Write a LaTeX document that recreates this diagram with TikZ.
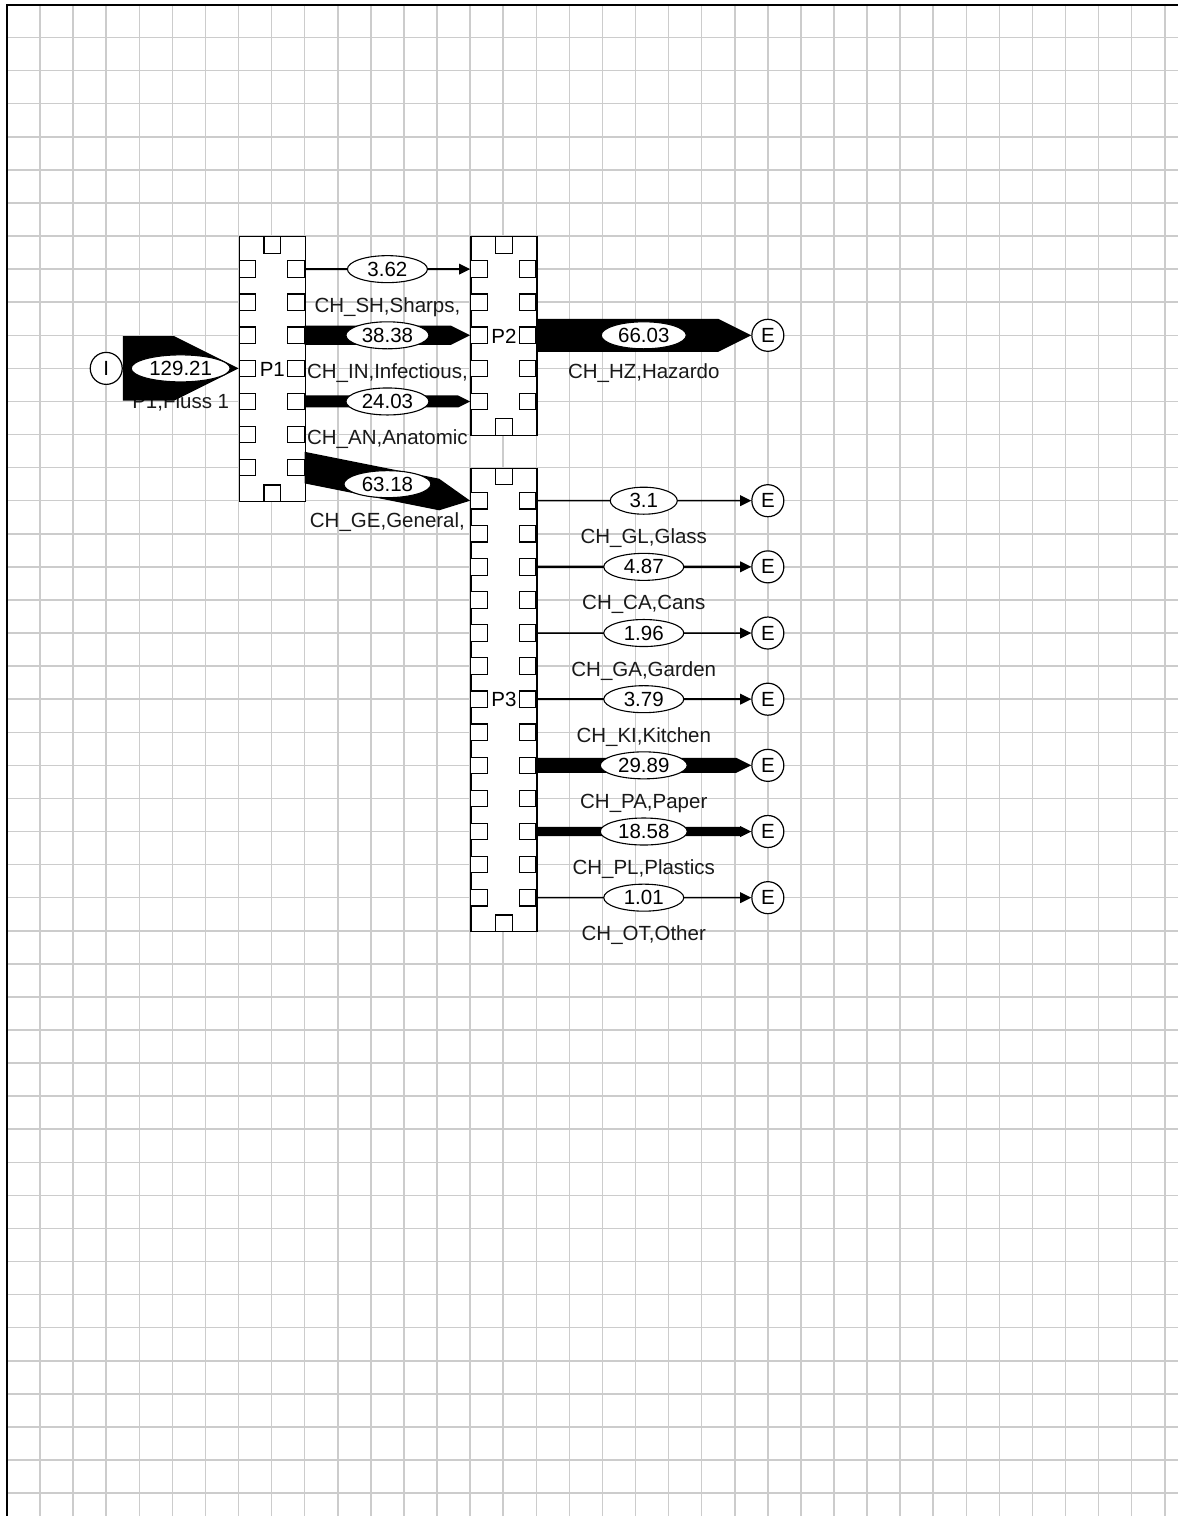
\documentclass[tikz,border=0pt]{standalone}
\usepackage{fontspec}
\setmainfont{Liberation Sans}
\usetikzlibrary{calc, shapes.geometric}

% process block with its ports: name, left x, first row, last row
\newcommand{\procbox}[4]{%
  \node[proc, minimum height={(#4-#3+2)*33.08pt}, anchor=north west] (#1) at (#2,#3-1) {#1};
  \foreach \r in {#3,...,#4} {
    \node[port, anchor=west] (#1l\r) at (#2,\r) {};
    \node[port, anchor=east] (#1r\r) at (#2+2,\r) {};
  }
  \node[port, anchor=north] at (#1.north) {};
  \node[port, anchor=south] at (#1.south) {};
}

% flow band: start, tip, value, label, ellipse width
\newcommand{\fbdrop}{1.3}
\newcommand{\flowband}[5]{%
  \pgfmathsetmacro\fbw{max(#3*0.25,0.75)}%
  \pgfmathsetmacro\fbh{max(#3*0.5,11)}%
  \pgfmathsetmacro\fbhh{\fbh/2}%
  \coordinate (fs) at (#1);
  \coordinate (ft) at (#2);
  \coordinate (fm) at ($(fs)!0.5!(ft)$);
  \node[flowtxt] at ($(fm)+(0,\fbdrop)$) {#4};
  \coordinate (fb) at ($(ft)!\fbh pt!(fs)$);
  \fill[band] ($(fs)+(0,\fbw pt)$) -- ($(fb)+(0,\fbw pt)$) -- ($(fb)+(0,\fbhh pt)$)
    -- (ft) -- ($(fb)+(0,-\fbhh pt)$) -- ($(fb)+(0,-\fbw pt)$) -- ($(fs)+(0,-\fbw pt)$) -- cycle;
  \node[val, minimum width=#5pt] at (fm) {#3};
}

\begin{document}
\begin{tikzpicture}[
    x=33.08pt, y=-33.08pt,
    font=\fontsize{20.5}{24}\selectfont,
    gridline/.style={draw=gray!40, line width=1.5pt},
    frame/.style={draw=black, line width=2pt},
    proc/.style={draw, fill=white, rectangle, line width=1.4pt,
        minimum width=66.16pt, inner sep=0pt},
    port/.style={draw, fill=white, rectangle, line width=1.2pt,
        minimum size=16.5pt, inner sep=0pt},
    term/.style={draw, fill=white, circle, line width=1.2pt,
        minimum size=32pt, inner sep=0pt},
    val/.style={draw, fill=white, ellipse, line width=1.1pt,
        minimum height=27pt, inner sep=0pt},
    band/.style={fill=black},
    flowtxt/.style={anchor=base, text=black!90}
]
\useasboundingbox (-7pt,4.5pt) rectangle (1171pt,-1511.5pt);

% grid sheet
\foreach \k in {1,...,35} \draw[gridline] (\k,0) -- (\k,46);
\foreach \k in {1,...,45} \draw[gridline] (0,\k) -- (36,\k);
\draw[frame] (0,46) -- (0,0) -- (36,0);

\procbox{P1}{7}{8}{14}
\procbox{P2}{14}{8}{12}
\procbox{P3}{14}{15}{27}

\node[term] (I) at (3,11) {I};
\node[term] (E10) at (23,10) {E};
\foreach \r in {15,17,...,27} \node[term] (E\r) at (23,\r) {E};

{\renewcommand{\fbdrop}{1.2}
\flowband{I.east}{P1l11.west}{129.21}{P1,Fluss 1}{99}}
\flowband{P1r8.east}{P2l8.west}{3.62}{CH\_SH,Sharps,}{80}
\flowband{P1r10.east}{P2l10.west}{38.38}{CH\_IN,Infectious,}{83}
\flowband{P1r12.east}{P2l12.west}{24.03}{CH\_AN,Anatomic}{83}
\flowband{P1r14.east}{P3l15.west}{63.18}{CH\_GE,General,}{87}
\flowband{P2r10.east}{E10.west}{66.03}{CH\_HZ,Hazardo}{85}

\foreach \r/\v/\t/\w in {15/3.1/{CH\_GL,Glass}/67, 17/4.87/{CH\_CA,Cans}/80,
    19/1.96/{CH\_GA,Garden}/80, 21/3.79/{CH\_KI,Kitchen}/80,
    23/29.89/{CH\_PA,Paper}/87, 25/18.58/{CH\_PL,Plastics}/87,
    27/1.01/{CH\_OT,Other}/80} {
  \flowband{P3r\r.east}{E\r.west}{\v}{\t}{\w}
}

\end{tikzpicture}
\end{document}
